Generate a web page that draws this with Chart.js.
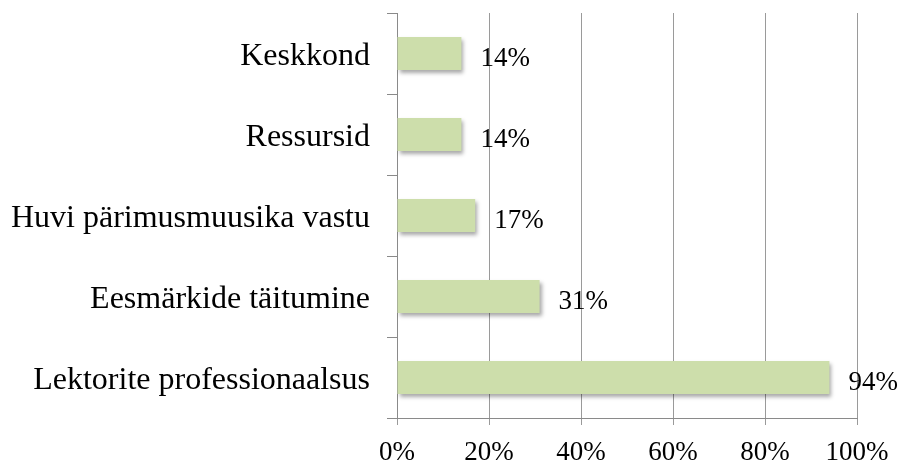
<!DOCTYPE html>
<html>
<head>
<meta charset="utf-8">
<script src="https://cdn.jsdelivr.net/npm/chart.js@4"></script>
<style>
  html, body { margin: 0; padding: 0; background: #fff; }
  #wrap { width: 908px; height: 465px; }
</style>
</head>
<body>
<div id="wrap"><canvas id="chart"></canvas></div>
<script>
// données
const categories = ['Keskkond', 'Ressursid', 'Huvi pärimusmuusika vastu', 'Eesmärkide täitumine', 'Lektorite professionaalsus'];
const percentValues = [14, 14, 17, 31, 94];
const tickValues = [0, 20, 40, 60, 80, 100];

const serif = "'Liberation Serif', 'Times New Roman', serif";

// ombre portée sous les barres
const shadowPlugin = {
  id: 'barShadow',
  beforeDatasetDraw(chart) {
    const ctx = chart.ctx;
    ctx.save();
    ctx.shadowColor = 'rgba(0,0,0,0.35)';
    ctx.shadowBlur = 4;
    ctx.shadowOffsetX = 2;
    ctx.shadowOffsetY = 3;
  },
  afterDatasetDraw(chart) {
    chart.ctx.restore();
  }
};

// étiquettes de valeur à droite des barres
const valueLabels = {
  id: 'valueLabels',
  afterDatasetsDraw(chart) {
    const ctx = chart.ctx;
    const meta = chart.getDatasetMeta(0);
    ctx.save();
    ctx.font = '27px ' + serif;
    ctx.fillStyle = '#000';
    ctx.textAlign = 'left';
    ctx.textBaseline = 'middle';
    meta.data.forEach((bar, i) => {
      ctx.fillText(percentValues[i] + '%', bar.x + 19, bar.y + 5);
    });
    ctx.restore();
  }
};

new Chart(document.getElementById('chart'), {
  type: 'bar',
  data: {
    labels: categories,
    datasets: [{
      data: percentValues,
      backgroundColor: '#cddeab',
      borderWidth: 0,
      barPercentage: 0.41,
      categoryPercentage: 1
    }]
  },
  options: {
    indexAxis: 'y',
    responsive: true,
    maintainAspectRatio: false,
    animation: false,
    layout: { padding: { top: 13, right: 51, bottom: 0, left: 0 } },
    plugins: {
      legend: { display: false },
      tooltip: { enabled: false }
    },
    scales: {
      x: {
        min: 0,
        max: 100,
        afterBuildTicks: (scale) => { scale.ticks = tickValues.map(v => ({ value: v })); },
        afterFit: (scale) => { scale.height = 47; scale.paddingLeft = 0; scale.paddingRight = 0; },
        ticks: {
          callback: (v) => v + '%',
          color: '#000',
          font: { family: serif, size: 27 },
          padding: 12,
          maxRotation: 0
        },
        grid: { color: '#9a9a9a', lineWidth: 1, tickLength: 7 },
        border: { color: '#8a8a8a', width: 1 }
      },
      y: {
        afterFit: (scale) => { scale.width = 397; scale.paddingTop = 0; scale.paddingBottom = 0; },
        ticks: {
          color: '#000',
          font: { family: serif, size: 32 },
          padding: 17,
          labelOffset: 3
        },
        grid: { drawOnChartArea: false, offset: true, color: '#8a8a8a', tickLength: 10 },
        border: { color: '#8a8a8a', width: 1 }
      }
    }
  },
  plugins: [shadowPlugin, valueLabels]
});
</script>
</body>
</html>
